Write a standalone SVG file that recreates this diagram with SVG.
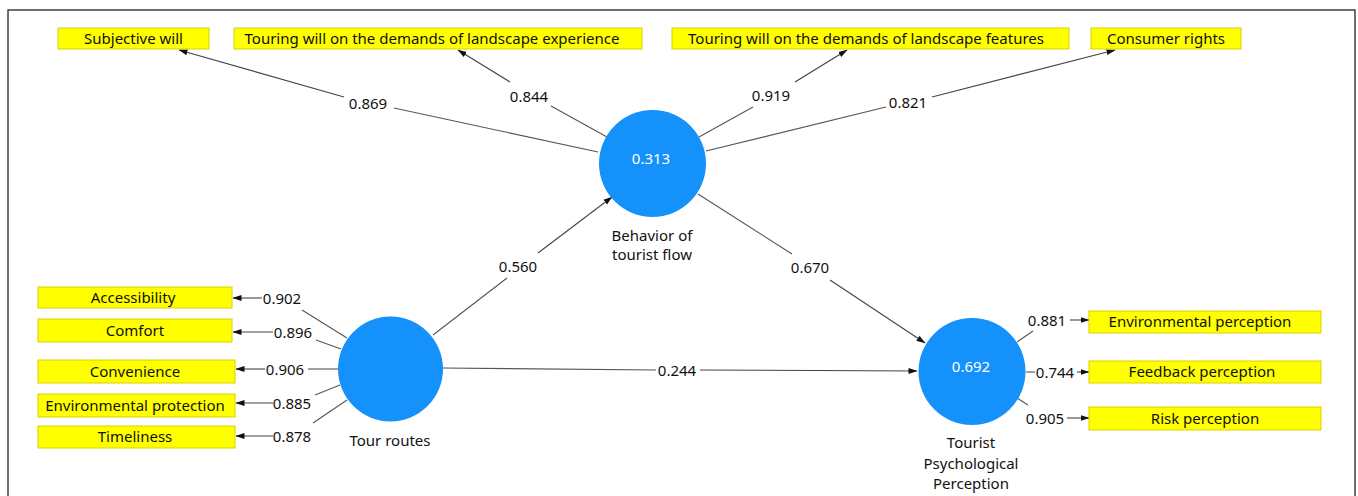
<svg xmlns="http://www.w3.org/2000/svg" width="1358" height="496" viewBox="0 0 1358 496">
<style>
text{font-family:"Noto Sans","Liberation Sans",sans-serif;font-size:15px;fill:#111;}
.box{fill:#ffff00;stroke:#d6d200;stroke-width:1;}
.lv{fill:#1591fb;}
.lbl{text-anchor:middle;}
.val{text-anchor:middle;fill:#fff;}
.c{stroke:#555;stroke-width:1.1;fill:none;}
.a{stroke:#444;stroke-width:1.1;fill:none;marker-end:url(#ah);}
.n{text-anchor:middle;}
</style>
<defs>
<marker id="ah" markerUnits="userSpaceOnUse" markerWidth="9" markerHeight="7" viewBox="0 0 9 7" refX="8.5" refY="3.5" orient="auto">
<path d="M0,0.5 L9,3.5 L0,6.5 Z" fill="#111"/>
</marker>
</defs>
<rect x="8" y="10" width="1347" height="500" fill="#fff" stroke="#222" stroke-width="1.3"/>

<g id="connectors">
<polyline class="c" points="598,152 394,108"/><polyline class="a" points="344,97 179,50"/>
<polyline class="c" points="607,137 551,106"/><polyline class="a" points="510,82 458,50"/>
<polyline class="c" points="699,137 753,107"/><polyline class="a" points="795,82 847,50"/>
<polyline class="c" points="706,151 886,107"/><polyline class="a" points="932,97 1115,50"/>
<polyline class="c" points="433,335 507,278"/><polyline class="a" points="538,253 612,197"/>
<polyline class="c" points="698,194 792,254"/><polyline class="a" points="830,280 925,343"/>
<polyline class="c" points="442,368 656,370"/><polyline class="a" points="700,370 917,371"/>
<polyline class="c" points="347,338 302,310"/><polyline class="a" points="262,298 233,298"/>
<polyline class="c" points="341,349 316,340"/><polyline class="a" points="273,332 233,332"/>
<polyline class="c" points="338,369 308,369"/><polyline class="a" points="265,369 236,369"/>
<polyline class="c" points="340,385 315,395"/><polyline class="a" points="273,403 236,403"/>
<polyline class="c" points="347,400 313,423"/><polyline class="a" points="273,436 236,436"/>
<polyline class="c" points="1017,342 1033,331"/><polyline class="a" points="1070,320 1089,320"/>
<polyline class="c" points="1026,372 1035,372"/><polyline class="a" points="1077,372 1089,372"/>
<polyline class="c" points="1017,398 1028,405"/><polyline class="a" points="1067,418 1089,418"/>
<text class="n" x="368" y="108.5">0.869</text>
<text class="n" x="529" y="101.5">0.844</text>
<text class="n" x="771" y="100.5">0.919</text>
<text class="n" x="908" y="107.5">0.821</text>
<text class="n" x="518" y="271.5">0.560</text>
<text class="n" x="810" y="272.5">0.670</text>
<text class="n" x="677" y="375.5">0.244</text>
<text class="n" x="282" y="303.5">0.902</text>
<text class="n" x="293" y="337.5">0.896</text>
<text class="n" x="285" y="374.5">0.906</text>
<text class="n" x="292" y="408.5">0.885</text>
<text class="n" x="292" y="441.5">0.878</text>
<text class="n" x="1047" y="325.5">0.881</text>
<text class="n" x="1055" y="377.5">0.744</text>
<text class="n" x="1045" y="423.5">0.905</text>
</g>

<g id="node-subjective-will"><rect class="box" x="58" y="28" width="151" height="21"/><text class="lbl" x="133.5" y="44">Subjective will</text></g>
<g id="node-landscape-experience"><rect class="box" x="234" y="28" width="408" height="21"/><text class="lbl" x="432" y="44">Touring will on the demands of landscape experience</text></g>
<g id="node-landscape-features"><rect class="box" x="672" y="28" width="397" height="21"/><text class="lbl" x="866" y="44">Touring will on the demands of landscape features</text></g>
<g id="node-consumer-rights"><rect class="box" x="1091" y="28" width="150" height="21"/><text class="lbl" x="1166" y="44">Consumer rights</text></g>

<g id="node-accessibility"><rect class="box" x="38" y="287" width="194" height="21"/><text class="lbl" x="133" y="303">Accessibility</text></g>
<g id="node-comfort"><rect class="box" x="38" y="319" width="194" height="23"/><text class="lbl" x="135" y="336">Comfort</text></g>
<g id="node-convenience"><rect class="box" x="38" y="360" width="197" height="23"/><text class="lbl" x="135" y="377">Convenience</text></g>
<g id="node-env-protection"><rect class="box" x="38" y="394" width="197" height="23"/><text class="lbl" x="135" y="411">Environmental protection</text></g>
<g id="node-timeliness"><rect class="box" x="38" y="426" width="197" height="22"/><text class="lbl" x="135" y="442">Timeliness</text></g>

<g id="node-env-perception"><rect class="box" x="1089" y="311" width="232" height="22"/><text class="lbl" x="1200" y="327">Environmental perception</text></g>
<g id="node-feedback-perception"><rect class="box" x="1089" y="361" width="232" height="22"/><text class="lbl" x="1202" y="377">Feedback perception</text></g>
<g id="node-risk-perception"><rect class="box" x="1089" y="407" width="232" height="23"/><text class="lbl" x="1205" y="424">Risk perception</text></g>

<g id="node-behavior"><circle class="lv" cx="652.5" cy="163.5" r="53.5"/><text class="val" x="651" y="163.5">0.313</text><text class="lbl" x="652" y="240.5">Behavior of</text><text class="lbl" x="652" y="259.5">tourist flow</text></g>
<g id="node-tour-routes"><circle class="lv" cx="390.5" cy="369" r="52.5"/><text class="lbl" x="390" y="446">Tour routes</text></g>
<g id="node-tpp"><circle class="lv" cx="972" cy="371.5" r="53.5"/><text class="val" x="971" y="371.5">0.692</text><text class="lbl" x="971" y="447.5">Tourist</text><text class="lbl" x="971" y="468.5">Psychological</text><text class="lbl" x="971" y="488.5">Perception</text></g>
</svg>
